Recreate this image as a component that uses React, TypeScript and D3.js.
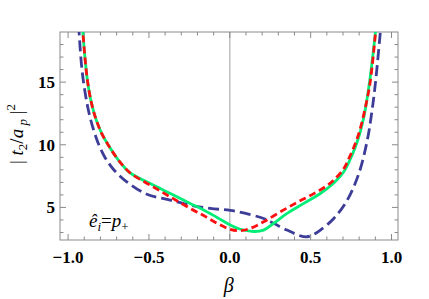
import React from "react";
import * as d3 from "d3";

const blueBeta = [-0.935, -0.918, -0.9, -0.875, -0.845, -0.81, -0.77, -0.72, -0.637, -0.513, -0.368, -0.245, -0.121, 0.003, 0.127, 0.209, 0.271, 0.354, 0.437, 0.478, 0.52, 0.56, 0.643, 0.726, 0.798, 0.85, 0.878, 0.901, 0.935];
const blueVal = [19.6, 16.5, 14.6, 12.8, 11.3, 10.0, 8.95, 8.05, 7.04, 6.05, 5.58, 5.18, 4.92, 4.76, 4.42, 4.12, 3.73, 3.19, 2.73, 2.66, 2.85, 3.19, 4.12, 5.58, 7.71, 10.36, 12.6, 15, 19.6];

const greenBeta = [-0.912, -0.896, -0.879, -0.855, -0.825, -0.79, -0.75, -0.69, -0.616, -0.492, -0.368, -0.245, -0.162, -0.079, 0.003, 0.06, 0.147, 0.209, 0.271, 0.354, 0.457, 0.56, 0.643, 0.705, 0.736, 0.787, 0.83, 0.864, 0.905];
const greenVal = [19.6, 17, 15, 13.3, 11.95, 10.85, 9.95, 8.8, 7.75, 6.9, 6.11, 5.32, 4.8, 4.2, 3.6, 3.28, 3.08, 3.19, 3.73, 4.52, 5.32, 6.11, 6.95, 7.85, 8.6, 10.2, 12.3, 15, 19.5];

const redBeta = [-0.912, -0.896, -0.879, -0.855, -0.825, -0.79, -0.75, -0.69, -0.616, -0.492, -0.368, -0.245, -0.162, -0.079, 0.003, 0.065, 0.127, 0.209, 0.313, 0.416, 0.519, 0.622, 0.705, 0.736, 0.767, 0.8, 0.835, 0.868, 0.905];
const redVal = [19.6, 17, 15, 13.3, 11.95, 10.85, 9.95, 8.8, 7.75, 6.78, 5.84, 4.92, 4.35, 3.73, 3.25, 3.14, 3.33, 3.85, 4.65, 5.4, 6.1, 6.95, 8.1, 8.9, 9.8, 11.0, 12.8, 15, 19.5];

const xMajor = [-1.0, -0.5, 0.0, 0.5, 1.0];
const xMajorLabels = ["\u22121.0", "\u22120.5", "0.0", "0.5", "1.0"];
const yMajor = [5, 10, 15];
const yMajorLabels = ["5", "10", "15"];

export default function App() {
  const W = 429, H = 299;
  const L = 60, R = 398, T = 32, B = 240;
  const x = d3.scaleLinear().domain([-1.05, 1.04]).range([L, R]);
  const y = d3.scaleLinear().domain([2.4, 19]).range([B, T]);

  const xMinor = d3.range(-10, 11).map((i) => i / 10).filter((v) => !xMajor.some((m) => Math.abs(m - v) < 1e-9));
  const yMinor = d3.range(3, 19).filter((v) => !yMajor.includes(v));

  const line = d3
    .line<[number, number]>()
    .x((d) => x(d[0]))
    .y((d) => y(d[1]))
    .curve(d3.curveCatmullRom.alpha(0.5));

  const mk = (b: number[], v: number[]) => b.map((bb, i) => [bb, v[i]] as [number, number]);

  const frame = "#8a8a8a";
  const majLen = 6, minLen = 3.5;
  const serifStyle = { fontFamily: "'Liberation Serif', 'DejaVu Serif', 'Times New Roman', Times, serif" };

  return (
    <svg width={W} height={H} style={{ position: "absolute", left: 0, top: 0, background: "#fff" }}>
      <defs>
        <clipPath id="plotclip">
          <rect x={L} y={T} width={R - L} height={B - T} />
        </clipPath>
      </defs>
      <line x1={x(0)} x2={x(0)} y1={T} y2={B} stroke="#b0b0b0" strokeWidth={1.2} />
      <rect x={L} y={T} width={R - L} height={B - T} fill="none" stroke={frame} strokeWidth={1} />
      {xMajor.map((v) => (
        <g key={"xM" + v}>
          <line x1={x(v)} x2={x(v)} y1={B} y2={B - majLen} stroke={frame} />
          <line x1={x(v)} x2={x(v)} y1={T} y2={T + majLen} stroke={frame} />
        </g>
      ))}
      {xMinor.map((v) => (
        <g key={"xm" + v}>
          <line x1={x(v)} x2={x(v)} y1={B} y2={B - minLen} stroke={frame} />
          <line x1={x(v)} x2={x(v)} y1={T} y2={T + minLen} stroke={frame} />
        </g>
      ))}
      {yMajor.map((v) => (
        <g key={"yM" + v}>
          <line x1={L} x2={L + majLen} y1={y(v)} y2={y(v)} stroke={frame} />
          <line x1={R} x2={R - majLen} y1={y(v)} y2={y(v)} stroke={frame} />
        </g>
      ))}
      {yMinor.map((v) => (
        <g key={"ym" + v}>
          <line x1={L} x2={L + minLen} y1={y(v)} y2={y(v)} stroke={frame} />
          <line x1={R} x2={R - minLen} y1={y(v)} y2={y(v)} stroke={frame} />
        </g>
      ))}
      <g style={serifStyle}>
        {xMajor.map((v, i) => (
          <text key={"xl" + v} x={x(v)} y={263} textAnchor="middle" fontWeight="bold" fontSize={17}>
            {xMajorLabels[i]}
          </text>
        ))}
        {yMajor.map((v, i) => (
          <text key={"yl" + v} x={55} y={y(v) + 6} textAnchor="end" fontWeight="bold" fontSize={17}>
            {yMajorLabels[i]}
          </text>
        ))}
      </g>
      <g clipPath="url(#plotclip)">
        <path d={line(mk(blueBeta, blueVal)) || ""} fill="none" stroke="#3d3d99" strokeWidth={2.8} strokeDasharray="11,5" />
        <path d={line(mk(greenBeta, greenVal)) || ""} fill="none" stroke="#00ee77" strokeWidth={2.8} />
        <path d={line(mk(redBeta, redVal)) || ""} fill="none" stroke="#ff1010" strokeWidth={2.8} strokeDasharray="7,4" />
      </g>
      <g style={serifStyle}>
        <text x={89} y={227} fontSize={19}>
          <tspan fontStyle="italic">ê</tspan>
          <tspan fontStyle="italic" fontSize={13} dy={4}>i</tspan>
          <tspan dy={-4}>=</tspan>
          <tspan fontStyle="italic">p</tspan>
          <tspan fontSize={13} dy={4}>+</tspan>
        </text>
        <text x={x(0) - 1} y={292} textAnchor="middle" fontStyle="italic" fontSize={20}>
          β
        </text>
        <text transform={`translate(23, ${(T + B) / 2 - 2}) rotate(-90)`} textAnchor="middle" fontSize={19}>
          <tspan>| </tspan>
          <tspan fontStyle="italic">t</tspan>
          <tspan fontSize={13} dy={4}>2</tspan>
          <tspan dy={-4}>/</tspan>
          <tspan fontStyle="italic">a</tspan>
          <tspan fontStyle="italic" fontSize={13} dy={4}> p</tspan>
          <tspan dy={-4}> |</tspan>
          <tspan fontSize={13} dy={-8}>2</tspan>
        </text>
      </g>
    </svg>
  );
}
